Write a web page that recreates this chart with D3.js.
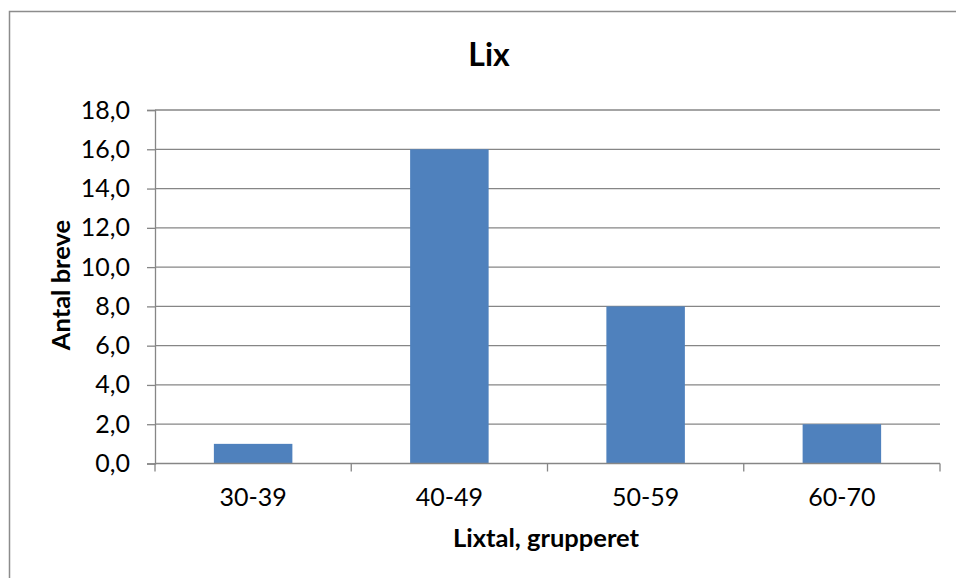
<!DOCTYPE html>
<html>
<head>
<meta charset="utf-8">
<script src="https://cdn.jsdelivr.net/npm/d3@7"></script>
<style>
  html, body { margin: 0; padding: 0; background: #fff; }
  svg { display: block; font-family: Lato, "Open Sans", sans-serif; }
</style>
</head>
<body>
<svg id="chart" width="956" height="578"></svg>
<script>
const categories = ["30-39", "40-49", "50-59", "60-70"];
const values = [1, 16, 8, 2];
const yTicks = [0, 2, 4, 6, 8, 10, 12, 14, 16, 18];
const titleText = "Lix";
const xTitle = "Lixtal, grupperet";
const yTitle = "Antal breve";

const svg = d3.select("#chart");
const m = { left: 155, right: 940, top: 110, bottom: 463.5 };

// outer chart border (extends beyond right/bottom edge)
svg.append("rect")
  .attr("x", 9.5).attr("y", 11.5)
  .attr("width", 1000).attr("height", 1000)
  .attr("fill", "none").attr("stroke", "#8c8c8c").attr("stroke-width", 1.5);

const x = d3.scaleBand().domain(categories).range([m.left, m.right]).paddingInner(0.6).paddingOuter(0.3);
const xEdge = d3.scaleBand().domain(categories).range([m.left, m.right]).padding(0);
const y = d3.scaleLinear().domain([0, 18]).range([m.bottom, m.top]);

// gridlines
svg.append("g").selectAll("line").data(yTicks.filter(d => d > 0)).join("line")
  .attr("x1", m.left).attr("x2", m.right)
  .attr("y1", d => y(d)).attr("y2", d => y(d))
  .attr("stroke", "#868686").attr("stroke-width", 1.3);

// bars
svg.append("g").selectAll("rect").data(values).join("rect")
  .attr("x", (d, i) => x(categories[i]))
  .attr("width", x.bandwidth())
  .attr("y", d => y(d))
  .attr("height", d => y(0) - y(d))
  .attr("fill", "#4F81BD");

// y axis
const yAxis = d3.axisLeft(y).tickValues(yTicks).tickSize(8).tickPadding(17)
  .tickFormat(d => d3.format(".1f")(d).replace(".", ","));
const gy = svg.append("g").attr("transform", `translate(${m.left},0)`).call(yAxis);
gy.attr("font-family", null).attr("font-size", null);
gy.select(".domain").attr("stroke", "#868686").attr("stroke-width", 1.3);
gy.selectAll(".tick line").attr("stroke", "#868686").attr("stroke-width", 1.3);
gy.selectAll("text").attr("font-size", 25).attr("fill", "#000");

// x axis
const xAxisLine = svg.append("g");
xAxisLine.append("line")
  .attr("x1", m.left).attr("x2", m.right).attr("y1", m.bottom).attr("y2", m.bottom)
  .attr("stroke", "#868686").attr("stroke-width", 1.3);
const edges = categories.map(c => xEdge(c)).concat([xEdge(categories[categories.length - 1]) + xEdge.bandwidth()]);
xAxisLine.selectAll("line.tk").data(edges).join("line").attr("class", "tk")
  .attr("x1", d => d).attr("x2", d => d)
  .attr("y1", m.bottom).attr("y2", m.bottom + 8)
  .attr("stroke", "#868686").attr("stroke-width", 1.3);
xAxisLine.selectAll("text").data(categories).join("text")
  .attr("x", d => x(d) + x.bandwidth() / 2)
  .attr("y", 506)
  .attr("text-anchor", "middle")
  .attr("font-size", 25).attr("fill", "#000")
  .text(d => d);

// title
svg.append("text").attr("x", 489).attr("y", 66).attr("text-anchor", "middle")
  .attr("font-size", 32).attr("font-weight", "bold").attr("fill", "#000").text(titleText);

// axis titles
svg.append("text").attr("x", 546).attr("y", 547).attr("text-anchor", "middle")
  .attr("font-size", 25.5).attr("font-weight", "bold").attr("fill", "#000").text(xTitle);

svg.append("text").attr("transform", "translate(70,285) rotate(-90)").attr("text-anchor", "middle")
  .attr("font-size", 25.5).attr("font-weight", "bold").attr("fill", "#000").text(yTitle);
</script>
</body>
</html>
